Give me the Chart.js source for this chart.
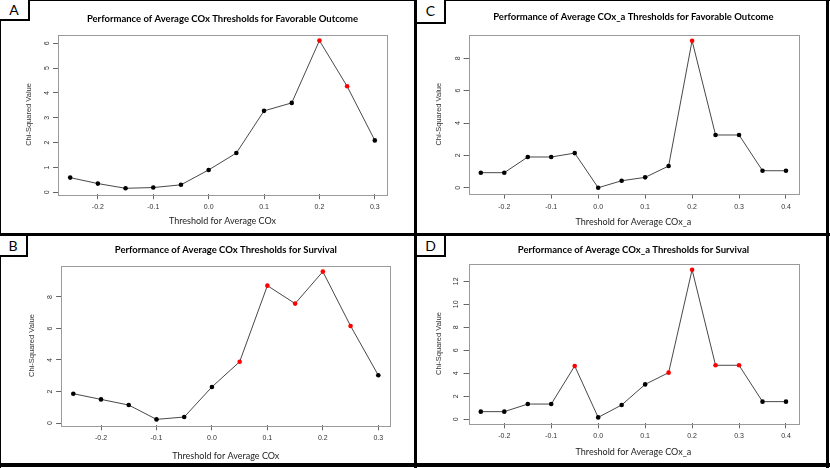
<!DOCTYPE html>
<html>
<head>
<meta charset="utf-8">
<script src="https://cdn.jsdelivr.net/npm/chart.js@4.4.1/dist/chart.umd.min.js"></script>
<style>
  body { margin: 0; background: #fff; }
  #fig { position: relative; width: 830px; height: 468px; background: #fff; overflow: hidden; }
  canvas { position: absolute; }
  .line { position: absolute; background: #000; }
  .tag { position: absolute; box-sizing: border-box; border: 2px solid #000; background: #fff;
         font-family: Lato, sans-serif; font-size: 14px; text-align: center; color: #000; }
</style>
</head>
<body>
<div id="fig">
  <canvas id="chartA" width="414" height="233" style="left:0;top:0"></canvas>
  <canvas id="chartC" width="409" height="233" style="left:417px;top:0"></canvas>
  <canvas id="chartB" width="414" height="227" style="left:0;top:236px"></canvas>
  <canvas id="chartD" width="409" height="227" style="left:417px;top:236px"></canvas>

  <div class="line" style="left:0;top:0;width:830px;height:1px"></div>
  <div class="line" style="left:0;top:0;width:1px;height:468px"></div>
  <div class="line" style="left:826px;top:0;width:3px;height:468px"></div>
  <div class="line" style="left:0;top:463px;width:830px;height:4px"></div>
  <div class="line" style="left:414px;top:0;width:3px;height:468px"></div>
  <div class="line" style="left:0;top:233px;width:830px;height:3px"></div>

  <div class="tag" style="left:-2px;top:-2px;width:32px;height:23px;line-height:19px">A</div>
  <div class="tag" style="left:415px;top:-2px;width:31px;height:26px;line-height:22px">C</div>
  <div class="tag" style="left:-2px;top:234px;width:30px;height:23px;line-height:19px">B</div>
  <div class="tag" style="left:415px;top:234px;width:31px;height:23px;line-height:19px">D</div>
</div>
<script>
// thresholds tested
const thresholdsCOx = [-0.25, -0.2, -0.15, -0.1, -0.05, 0.0, 0.05, 0.1, 0.15, 0.2, 0.25, 0.3];
const thresholdsCOxA = [-0.25, -0.2, -0.15, -0.1, -0.05, 0.0, 0.05, 0.1, 0.15, 0.2, 0.25, 0.3, 0.35, 0.4];

// chi-squared values
const chiFavCOx = [0.59, 0.35, 0.16, 0.19, 0.30, 0.90, 1.58, 3.28, 3.60, 6.11, 4.27, 2.09];
const chiSurvCOx = [1.86, 1.50, 1.14, 0.23, 0.38, 2.29, 3.89, 8.72, 7.58, 9.61, 6.16, 3.03];
const chiFavCOxA = [0.93, 0.93, 1.90, 1.90, 2.14, 0.0, 0.43, 0.64, 1.34, 9.09, 3.26, 3.26, 1.05, 1.05];
const chiSurvCOxA = [0.67, 0.67, 1.33, 1.33, 4.64, 0.17, 1.25, 3.04, 4.06, 13.01, 4.70, 4.70, 1.54, 1.54];

// thresholds drawn in red (significant)
const sigFavCOx = [0.2, 0.25];
const sigSurvCOx = [0.05, 0.1, 0.15, 0.2, 0.25];
const sigFavCOxA = [0.2];
const sigSurvCOxA = [-0.05, 0.15, 0.2, 0.25, 0.3];

// tick labels
const xTicksCOx = [-0.2, -0.1, 0.0, 0.1, 0.2, 0.3];
const xTicksCOxA = [-0.2, -0.1, 0.0, 0.1, 0.2, 0.3, 0.4];
const yTicksFavCOx = [0, 1, 2, 3, 4, 5, 6];
const yTicksSurvCOx = [0, 2, 4, 6, 8];
const yTicksFavCOxA = [0, 2, 4, 6, 8];
const yTicksSurvCOxA = [0, 2, 4, 6, 8, 10, 12];

Chart.defaults.font.family = "'Liberation Sans', Arial, sans-serif";
Chart.defaults.animation = false;

// R-style axis range: data range padded by 4% each side
function rRange(vals) {
    const lo = Math.min(...vals), hi = Math.max(...vals);
    const pad = (hi - lo) * 0.04;
    return [lo - pad, hi + pad];
}

// grey box around the plot region like R's box()
const plotBox = {
    id: 'plotBox',
    beforeDatasetsDraw(chart) {
        const a = chart.chartArea;
        const ctx = chart.ctx;
        ctx.save();
        ctx.strokeStyle = '#9a9a9a';
        ctx.lineWidth = 1;
        ctx.strokeRect(Math.round(a.left) + 0.5, Math.round(a.top) + 0.5,
            Math.round(a.right - a.left), Math.round(a.bottom - a.top));
        ctx.restore();
    }
};

function drawPanel(id, p) {
    const xr = rRange(p.xs);
    const yr = rRange(p.ys);
    const points = p.xs.map((x, i) => ({ x: x, y: p.ys[i] }));
    const colors = p.xs.map(x => p.sig.some(s => Math.abs(s - x) < 1e-9) ? '#ff0000' : '#000000');

    new Chart(document.getElementById(id), {
        type: 'line',
        data: {
            datasets: [{
                data: points,
                borderColor: '#333333',
                borderWidth: 0.9,
                pointBackgroundColor: colors,
                pointBorderWidth: 0,
                pointRadius: 2.3,
                tension: 0
            }]
        },
        options: {
            responsive: false,
            layout: { autoPadding: false, padding: { left: 0, right: p.padRight, top: 0, bottom: 0 } },
            plugins: {
                legend: { display: false },
                tooltip: { enabled: false },
                title: {
                    display: true,
                    text: p.title,
                    fullSize: false,
                    color: '#000',
                    font: { family: 'Lato', weight: 'bold', size: 9.5 },
                    padding: { top: p.titleTop, bottom: p.titleBottom }
                }
            },
            scales: {
                x: {
                    type: 'linear',
                    min: xr[0],
                    max: xr[1],
                    afterBuildTicks: s => { s.ticks = p.xTicks.map(v => ({ value: v })); },
                    afterFit: s => { s.height = p.xHeight; },
                    border: { display: false },
                    grid: { drawOnChartArea: false, drawTicks: true, tickLength: 5, color: '#666' },
                    ticks: {
                        padding: 4,
                        color: '#333',
                        font: { size: 7 },
                        maxRotation: 0,
                        callback: v => v.toFixed(1)
                    },
                    title: {
                        display: true,
                        text: p.xTitle,
                        color: '#222',
                        font: { family: 'Lato', size: 9 },
                        padding: { top: 0, bottom: p.xTitlePad }
                    }
                },
                y: {
                    type: 'linear',
                    min: yr[0],
                    max: yr[1],
                    afterBuildTicks: s => { s.ticks = p.yTicks.map(v => ({ value: v })); },
                    afterFit: s => { s.width = p.left; },
                    border: { display: false },
                    grid: { drawOnChartArea: false, drawTicks: true, tickLength: 5, color: '#666' },
                    ticks: {
                        padding: 4,
                        color: '#333',
                        font: { size: 7 },
                        minRotation: 90,
                        maxRotation: 90,
                        crossAlign: 'center',
                        callback: v => String(v)
                    },
                    title: {
                        display: true,
                        text: 'Chi-Squared Value',
                        color: '#333',
                        font: { size: 7.5 },
                        padding: { top: p.yTitleCenter - 4.5, bottom: 0 }
                    }
                }
            }
        },
        plugins: [plotBox]
    });
}

drawPanel('chartA', {
    xs: thresholdsCOx, ys: chiFavCOx, sig: sigFavCOx,
    xTicks: xTicksCOx, yTicks: yTicksFavCOx,
    title: 'Performance of Average COx Thresholds for Favorable Outcome',
    xTitle: 'Threshold for Average COx',
    left: 58, padRight: 27, xHeight: 38.8,
    titleTop: 13.6, titleBottom: 9.7, xTitlePad: 6.6, yTitleCenter: 29.3
});

drawPanel('chartC', {
    xs: thresholdsCOxA, ys: chiFavCOxA, sig: sigFavCOxA,
    xTicks: xTicksCOxA, yTicks: yTicksFavCOxA,
    title: 'Performance of Average COx_a Thresholds for Favorable Outcome',
    xTitle: 'Threshold for Average COx_a',
    left: 51.6, padRight: 27.8, xHeight: 39.4,
    titleTop: 11.0, titleBottom: 12.4, xTitlePad: 5.9, yTitleCenter: 22.3
});

drawPanel('chartB', {
    xs: thresholdsCOx, ys: chiSurvCOx, sig: sigSurvCOx,
    xTicks: xTicksCOx, yTicks: yTicksSurvCOx,
    title: 'Performance of Average COx Thresholds for Survival',
    xTitle: 'Threshold for Average COx',
    left: 61.1, padRight: 23.5, xHeight: 37.7,
    titleTop: 8.0, titleBottom: 10.3, xTitlePad: 1.9, yTitleCenter: 31.7
});

drawPanel('chartD', {
    xs: thresholdsCOxA, ys: chiSurvCOxA, sig: sigSurvCOxA,
    xTicks: xTicksCOxA, yTicks: yTicksSurvCOxA,
    title: 'Performance of Average COx_a Thresholds for Survival',
    xTitle: 'Threshold for Average COx_a',
    left: 51.6, padRight: 27.8, xHeight: 39.7,
    titleTop: 8.0, titleBottom: 8.4, xTitlePad: 5.3, yTitleCenter: 22
});
</script>
</body>
</html>
